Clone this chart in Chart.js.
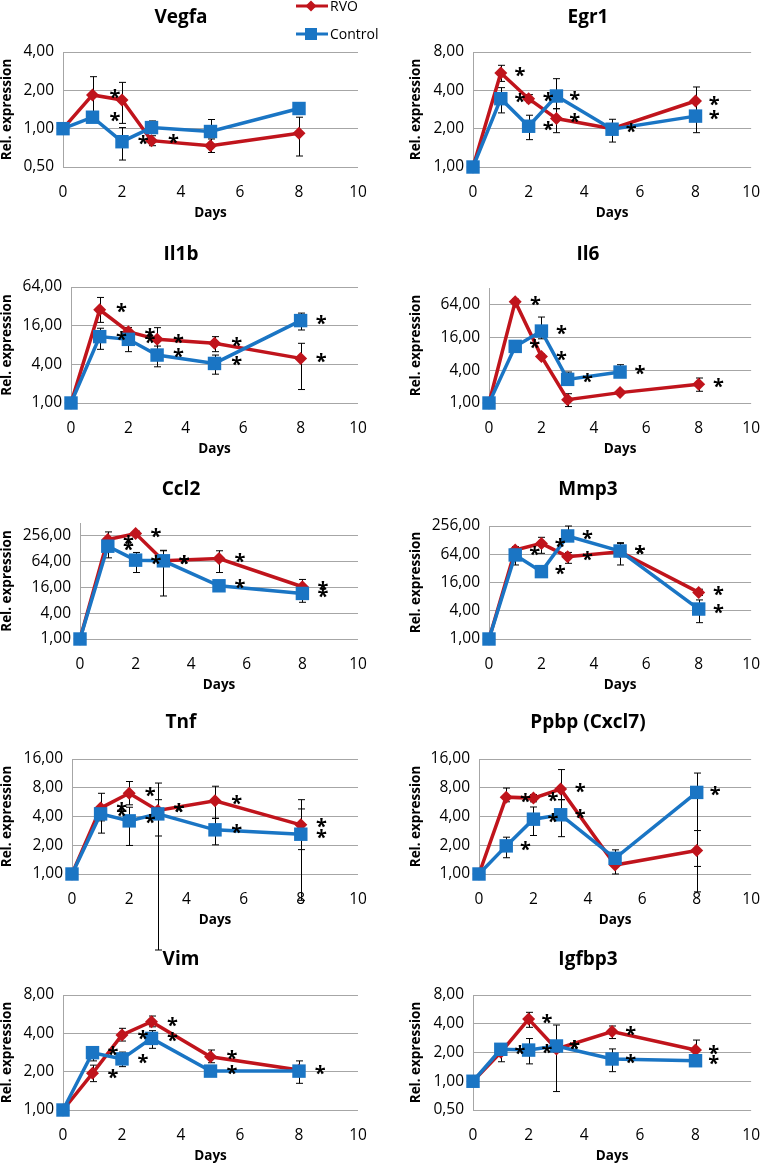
<!DOCTYPE html>
<html>
<head>
<meta charset="utf-8">
<script src="https://cdn.jsdelivr.net/npm/chart.js@4.4.1/dist/chart.umd.min.js"></script>
<style>
  html, body { margin: 0; padding: 0; background: #fff; }
  #wrap { position: relative; width: 776px; height: 1165px; overflow: hidden; background: #fff; }
  canvas { position: absolute; }
</style>
</head>
<body>
<div id="wrap"></div>
<script>
// data, one row per gene
var genes = ["Vegfa", "Egr1", "Il1b", "Il6", "Ccl2", "Mmp3", "Tnf", "Ppbp (Cxcl7)", "Vim", "Igfbp3"];
var days = [0, 1, 2, 3, 5, 8];

var rvoMean = [
  [1, 1.84, 1.68, 0.805, 0.735, 0.92],
  [1, 5.47, 3.44, 2.40, 2.0, 3.30],
  [1, 28.3, 12.9, 9.8, 8.5, 4.95],
  [1, 72, 7.15, 1.15, 1.55, 2.20],
  [1, 210, 290, 67, 76, 16.6],
  [1, 78.6, 109, 56.8, 72.5, 9.85],
  [1, 4.9, 7.0, 4.63, 5.84, 3.27],
  [1, 6.38, 6.23, 7.74, 1.24, 1.76],
  [1, 1.94, 3.88, 4.94, 2.62, 2.06],
  [1, 2.01, 4.48, 2.18, 3.31, 2.12]
];
var rvoLow = [
  [null, 1.30, 1.10, 0.735, 0.65, 0.61],
  [null, 4.7, 3.2, 1.86, 1.9, 2.6],
  [null, 18, 11, 6.5, 6.3, 1.62],
  [null, 64, 6.5, 0.86, 1.45, 1.64],
  [null, 150, 250, 50, 35.7, 13],
  [null, 65, 67, 41, 60, 8.5],
  [null, 2.68, 5.3, 2.5, 3.83, 1.8],
  [null, 5.7, 5.7, 6.0, 1.0, 1.2],
  [null, 1.67, 3.48, 4.5, 2.35, 1.95],
  [null, 1.6, 3.67, 2.0, 2.8, 1.9]
];
var rvoHigh = [
  [null, 2.56, 2.31, 0.88, 0.83, 1.23],
  [null, 6.29, 3.7, 2.87, 2.1, 4.25],
  [null, 44, 15, 14.9, 10.8, 8.5],
  [null, 80, 7.9, 1.48, 1.65, 2.87],
  [null, 317, 330, 118, 115, 24.6],
  [null, 93, 147, 70, 113, 11.5],
  [null, 7.0, 9.3, 6.0, 8.3, 6.0],
  [null, 7.94, 6.8, 12.4, 1.45, 2.85],
  [null, 2.25, 4.38, 5.47, 2.96, 2.2],
  [null, 2.2, 5.27, 2.4, 3.79, 2.7]
];
var ctlMean = [
  [1, 1.23, 0.79, 1.02, 0.95, 1.44],
  [1, 3.44, 2.09, 3.61, 1.98, 2.51],
  [1, 10.8, 9.8, 5.58, 4.13, 19.2],
  [1, 10.9, 20.8, 2.71, 3.69, null],
  [1, 147, 69.4, 67, 17.5, 11.6],
  [1, 61.8, 27.3, 157, 75, 4.35],
  [1, 4.26, 3.6, 4.26, 2.9, 2.61],
  [1, 1.97, 3.75, 4.17, 1.46, 7.15],
  [1, 2.82, 2.52, 3.65, 2.02, 2.02],
  [1, 2.16, 2.12, 2.34, 1.71, 1.64]
];
var ctlLow = [
  [null, 1.15, 0.567, 0.92, 0.85, 1.36],
  [null, 2.66, 1.64, 2.87, 1.57, 1.86],
  [null, 6.85, 6.3, 3.66, 2.81, 13.7],
  [null, 9.5, 15, 2.2, 3.3, null],
  [null, 78.6, 35.7, 10.1, 15.5, 7.2],
  [null, 37.8, 21.3, 120, 37.8, 2.23],
  [null, 3.6, 1.99, 0.16, 2.02, 0.53],
  [null, 1.48, 2.53, 2.46, 1.3, 0.65],
  [null, 2.43, 2.19, 3.05, 1.95, 1.62],
  [null, 2.0, 1.52, 0.78, 1.26, 1.45]
];
var ctlHigh = [
  [null, 1.32, 1.02, 1.15, 1.18, 1.52],
  [null, 4.2, 2.55, 4.94, 2.37, 3.2],
  [null, 14.6, 12.9, 7.7, 5.58, 25.1],
  [null, 12.5, 37.6, 3.69, 5.03, null],
  [null, 200, 105, 115, 20, 16],
  [null, 75, 33, 256, 109, 6.8],
  [null, 5.0, 5.0, 8.96, 3.83, 4.8],
  [null, 2.43, 5.03, 6.0, 1.79, 11.4],
  [null, 3.1, 2.85, 4.2, 2.1, 2.43],
  [null, 2.3, 2.8, 3.88, 2.18, 1.8]
];

// significance asterisks (day, value)
var starDays = [
  [1.76, 1.76, 2.72, 3.74],
  [1.69, 1.69, 2.70, 2.70, 3.66, 3.66, 5.69, 8.67, 8.67],
  [1.76, 1.76, 2.75, 2.75, 3.74, 3.74, 5.77, 5.77, 8.72, 8.72],
  [1.77, 1.74, 2.76, 2.76, 3.76, 5.76, 8.75],
  [1.74, 1.74, 2.73, 2.73, 3.75, 3.75, 5.75, 5.75, 8.74, 8.74],
  [1.74, 2.72, 2.72, 3.76, 3.76, 5.76, 5.76, 8.75, 8.75],
  [1.74, 1.74, 2.73, 2.73, 3.74, 3.74, 5.76, 5.76, 8.72, 8.72],
  [1.71, 1.71, 2.72, 2.72, 3.72, 3.72, 8.68],
  [1.69, 1.69, 2.71, 2.71, 3.71, 3.71, 5.73, 5.73, 8.72],
  [1.69, 2.66, 2.66, 3.65, 3.65, 5.67, 5.67, 8.65, 8.65]
];
var starValues = [
  [1.95, 1.28, 0.84, 0.86],
  [5.74, 3.59, 3.66, 2.19, 3.77, 2.50, 2.09, 3.44, 2.66],
  [31.9, 11.9, 13.4, 10.6, 10.8, 6.52, 9.6, 4.77, 20.9, 5.38],
  [81, 13.1, 23.6, 8.0, 3.07, 4.38, 2.53],
  [234, 170, 335, 80, 80, 80, 87, 21, 19.2, 13.4],
  [81.5, 124.6, 32, 185, 64.8, 85.6, 85.6, 11.5, 4.9],
  [5.3, 4.7, 7.5, 3.94, 5.1, 5.1, 6.24, 3.14, 3.55, 2.78],
  [6.6, 2.07, 6.76, 4.06, 8.3, 4.51, 7.74],
  [3.01, 2.0, 4.0, 2.62, 5.1, 3.88, 2.79, 2.15, 2.15],
  [2.21, 4.74, 2.3, 2.5, 2.5, 3.52, 1.81, 2.25, 1.77]
];

// y axis ranges and tick labels
var yMin = [0.5, 1, 1, 1, 1, 1, 1, 1, 1, 0.5];
var yMax = [4, 8, 64, 128, 512, 256, 16, 16, 8, 8];
var yTicks = [
  [0.5, 1, 2, 4],
  [1, 2, 4, 8],
  [1, 4, 16, 64],
  [1, 4, 16, 64],
  [1, 4, 16, 64, 256],
  [1, 4, 16, 64, 256],
  [1, 2, 4, 8, 16],
  [1, 2, 4, 8, 16],
  [1, 2, 4, 8],
  [0.5, 1, 2, 4, 8]
];

// page layout: plot area of every panel in page pixels
var panels = [
  { col: 0, row: 0, L: 63, R: 358, T: 52, B: 167 },
  { col: 1, row: 0, L: 473, R: 769, T: 52, B: 167 },
  { col: 0, row: 1, L: 71, R: 358, T: 287, B: 403 },
  { col: 1, row: 1, L: 489, R: 768, T: 288, B: 403 },
  { col: 0, row: 2, L: 80, R: 358, T: 523, B: 639 },
  { col: 1, row: 2, L: 489, R: 768, T: 526, B: 639 },
  { col: 0, row: 3, L: 72, R: 358, T: 759, B: 874 },
  { col: 1, row: 3, L: 479, R: 768, T: 759, B: 874 },
  { col: 0, row: 4, L: 63, R: 358, T: 995, B: 1110 },
  { col: 1, row: 4, L: 473, R: 769, T: 995, B: 1110 }
];
var rowTop = [0, 235, 470, 705, 940];
var titleY = [18, 255, 490, 723, 960];
var titleX = [181, 588];
var yTitleX = [7, 28];

var RED = "#c0141c";
var BLUE = "#1a75c4";
var GRID = "#a6a6a6";
var FONT = "'Open Sans', 'DejaVu Sans', sans-serif";

function fmt(v) {
  return v.toFixed(2).replace(".", ",");
}

function points(vals) {
  return days.map(function (d, j) { return { x: d, y: vals[j] }; });
}

var decor = {
  id: "decor",
  beforeDatasetsDraw: function (chart) {
    var i = chart.options.gene;
    var xs = chart.scales.x, ys = chart.scales.y, ctx = chart.ctx;
    ctx.save();
    ctx.strokeStyle = "#000";
    ctx.lineWidth = 1;
    [[rvoLow[i], rvoHigh[i]], [ctlLow[i], ctlHigh[i]]].forEach(function (e) {
      days.forEach(function (d, j) {
        if (e[0][j] == null || e[1][j] == null) return;
        var x = Math.round(xs.getPixelForValue(d)) + 0.5;
        var y1 = ys.getPixelForValue(e[0][j]);
        var y2 = ys.getPixelForValue(e[1][j]);
        ctx.beginPath();
        ctx.moveTo(x, y1); ctx.lineTo(x, y2);
        ctx.moveTo(x - 3.5, y1); ctx.lineTo(x + 3.5, y1);
        ctx.moveTo(x - 3.5, y2); ctx.lineTo(x + 3.5, y2);
        ctx.stroke();
      });
    });
    ctx.restore();
  },
  afterDraw: function (chart) {
    var i = chart.options.gene, p = panels[i];
    var cx = p.col * 388, ct = rowTop[p.row];
    var xs = chart.scales.x, ys = chart.scales.y, ctx = chart.ctx;
    ctx.save();
    // panel title
    ctx.fillStyle = "#000";
    ctx.font = "bold 19px " + FONT;
    ctx.textAlign = "center";
    ctx.textBaseline = "middle";
    ctx.fillText(genes[i], titleX[p.col] - cx, titleY[p.row] - ct);
    // asterisks
    ctx.font = "bold 20px " + FONT;
    ctx.textBaseline = "alphabetic";
    starDays[i].forEach(function (d, k) {
      ctx.fillText("*", xs.getPixelForValue(d), ys.getPixelForValue(starValues[i][k]) + 12);
    });
    // legend sits in the first panel
    if (i === 0) {
      ctx.lineWidth = 3;
      ctx.strokeStyle = RED;
      ctx.beginPath(); ctx.moveTo(296, 6); ctx.lineTo(328, 6); ctx.stroke();
      ctx.fillStyle = RED;
      ctx.beginPath();
      ctx.moveTo(311, 0.5); ctx.lineTo(316.5, 6); ctx.lineTo(311, 11.5); ctx.lineTo(305.5, 6);
      ctx.closePath(); ctx.fill();
      ctx.strokeStyle = BLUE;
      ctx.beginPath(); ctx.moveTo(296, 34); ctx.lineTo(328, 34); ctx.stroke();
      ctx.fillStyle = BLUE;
      ctx.fillRect(305, 28, 12, 12);
      ctx.fillStyle = "#000";
      ctx.font = "14px " + FONT;
      ctx.textAlign = "left";
      ctx.textBaseline = "middle";
      ctx.fillText("RVO", 330, 7);
      ctx.fillText("Control", 330, 35);
    }
    ctx.restore();
  }
};

var wrap = document.getElementById("wrap");

panels.forEach(function (p, i) {
  var cx = p.col * 388, ct = rowTop[p.row];
  var cw = 388, ch = p.row === 4 ? 225 : 250;
  var cv = document.createElement("canvas");
  cv.width = cw; cv.height = ch;
  cv.style.left = cx + "px"; cv.style.top = ct + "px";
  wrap.appendChild(cv);

  var yw = p.L - cx;
  var xh = ch - (p.B - ct);

  new Chart(cv, {
    type: "line",
    data: {
      datasets: [
        {
          label: "RVO",
          data: points(rvoMean[i]),
          borderColor: RED,
          backgroundColor: RED,
          borderWidth: 3.5,
          pointStyle: "rectRot",
          pointRadius: 6.5,
          pointBorderWidth: 0,
          clip: false,
          order: 2
        },
        {
          label: "Control",
          data: points(ctlMean[i]),
          borderColor: BLUE,
          backgroundColor: BLUE,
          borderWidth: 3.5,
          pointStyle: "rect",
          pointRadius: 9.5,
          pointBorderWidth: 0,
          clip: false,
          order: 1
        }
      ]
    },
    options: {
      gene: i,
      responsive: false,
      animation: false,
      devicePixelRatio: 1,
      layout: { padding: { top: p.T - ct, right: cw - (p.R - cx), left: 0, bottom: 0 } },
      plugins: { legend: { display: false }, tooltip: { enabled: false } },
      scales: {
        x: {
          type: "linear",
          min: 0,
          max: 10,
          ticks: { stepSize: 2, padding: 16, color: "#000", font: { family: FONT, size: 15.5 } },
          grid: { display: false, drawTicks: false },
          border: { display: false },
          title: {
            display: true,
            text: "Days",
            color: "#000",
            font: { family: FONT, size: 13.5, weight: "bold" },
            padding: { top: 0, bottom: ch - (p.B + 46 - ct) - 8.1 }
          },
          afterFit: function (s) { s.height = xh; }
        },
        y: {
          type: "logarithmic",
          min: yMin[i],
          max: yMax[i],
          afterBuildTicks: function (s) {
            s.ticks = yTicks[i].map(function (v) { return { value: v }; });
          },
          ticks: {
            padding: 9,
            color: "#000",
            font: { family: FONT, size: 15.5 },
            callback: function (v) { return fmt(v); }
          },
          grid: { color: GRID, lineWidth: 1, drawTicks: false },
          border: { display: true, color: GRID, width: 1 },
          title: {
            display: true,
            text: "Rel. expression",
            color: "#000",
            font: { family: FONT, size: 13.5, weight: "bold" },
            padding: { top: yTitleX[p.col] - 8.1, bottom: 0 }
          },
          afterFit: function (s) { s.width = yw; }
        }
      }
    },
    plugins: [decor]
  });
});
</script>
</body>
</html>
